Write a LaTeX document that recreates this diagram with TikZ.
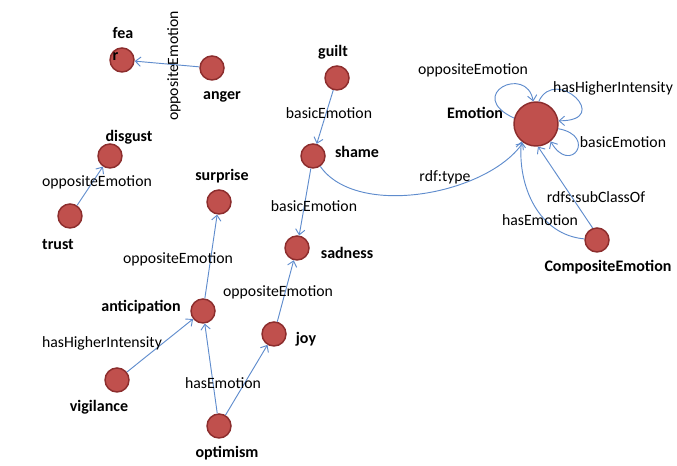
\documentclass[tikz,border=0pt]{standalone}
\usepackage{fontspec}
\setmainfont{Carlito}
\usepackage{tikz}
\usetikzlibrary{arrows.meta}
\definecolor{emofill}{RGB}{192,80,77}
\definecolor{emodraw}{RGB}{140,45,45}
\definecolor{linkblue}{RGB}{95,140,205}

\begin{document}
\begin{tikzpicture}[
  x=0.75pt, y=0.75pt,
  font=\fontsize{11.8}{14}\selectfont,
  % -- emotion nodes -----------------------------------------
  emo/.style={
    circle, fill=emofill, draw=emodraw, line width=1.1pt,
    minimum size=18pt, inner sep=0pt
  },
  bigemo/.style={emo, minimum size=33pt},
  % -- links -------------------------------------------------
  link/.style={draw=linkblue, line width=0.7pt,
    -{Straight Barb[length=4pt,width=7pt]}},
  % -- labels ------------------------------------------------
  emolbl/.style={font=\fontsize{12}{16}\selectfont\bfseries, inner sep=0pt},
  lbl/.style={inner sep=0pt},
]
\useasboundingbox (0,0) rectangle (677,466);

%% -- NODES -----------------------------------------------------
\node[emo] (fear)         at (122,406) {};
\node[emo] (anger)        at (212,398) {};
\node[emo] (disgust)      at (110,310) {};
\node[emo] (trust)        at (70,250)  {};
\node[emo] (surprise)     at (219,264) {};
\node[emo] (anticipation) at (203,155) {};
\node[emo] (vigilance)    at (117,86)  {};
\node[emo] (optimism)     at (219,40)  {};
\node[emo] (joy)          at (274,132) {};
\node[emo] (sadness)      at (297,218) {};
\node[emo] (shame)        at (313,310) {};
\node[emo] (guilt)        at (337,388) {};
\node[bigemo] (emotion)   at (536,342) {};
\node[emo] (composite)    at (597,226) {};

%% -- NODE NAMES ------------------------------------------------
\node[emolbl, align=left] (fearlbl) at (123,422) {fea\\r};
\node[emolbl] (angerlbl)     at (222,369) {anger};
\node[emolbl] (disgustlbl)   at (129,329) {disgust};
\node[emolbl] (trustlbl)     at (58,221)  {trust};
\node[emolbl] (surpriselbl)  at (222,290) {surprise};
\node[emolbl] (anticiplbl)   at (141,159) {anticipation};
\node[emolbl] (vigilancelbl) at (99,59)   {vigilance};
\node[emolbl] (optimismlbl)  at (227,13)  {optimism};
\node[emolbl] (joylbl)       at (306,127) {joy};
\node[emolbl] (sadnesslbl)   at (347,213) {sadness};
\node[emolbl] (shamelbl)     at (357,314) {shame};
\node[emolbl] (guiltlbl)     at (333,414) {guilt};
\node[emolbl] (emotionlbl)   at (475,353) {Emotion};
\node[emolbl] (compositelbl) at (608,199) {CompositeEmotion};

%% -- LINKS -----------------------------------------------------
\draw[link] (anger) -- (fear);
\draw[link] (trust) -- (disgust);
\draw[link] (anticipation) -- (surprise);
\draw[link] (vigilance) -- (anticipation);
\draw[link] (optimism) -- (anticipation);
\draw[link] (optimism) -- (joy);
\draw[link] (joy) -- (sadness);
\draw[link] (guilt) -- (shame);
\draw[link] (shame) -- (sadness);
\draw[link] (shame) to[out=-55,in=-125,looseness=0.8] (emotion);
\draw[link] (composite) to[out=175,in=-95] (emotion.-130);
\draw[link] (composite.110) -- (emotion.-85);

% self loops on Emotion
\draw[link] (emotion.165) .. controls +(155:55) and +(100:38) .. (emotion.97);
\draw[link] (emotion.83) .. controls +(65:40) and +(0:55) .. (emotion.8);
\draw[link] (emotion.-12) .. controls +(-10:40) and +(-60:40) .. (emotion.-50);

%% -- LINK LABELS -----------------------------------------------
\node[lbl, rotate=90] (l1) at (174,400) {oppositeEmotion};
\node[lbl] (l2)  at (97,284)  {oppositeEmotion};
\node[lbl] (l3)  at (178,207) {oppositeEmotion};
\node[lbl] (l4)  at (102,123) {hasHigherIntensity};
\node[lbl] (l5)  at (223,83)  {hasEmotion};
\node[lbl] (l6)  at (278,174) {oppositeEmotion};
\node[lbl] (l7)  at (329,353) {basicEmotion};
\node[lbl] (l8)  at (314,260) {basicEmotion};
\node[lbl] (l9)  at (445,289) {rdf:type};
\node[lbl] (l10) at (473,396) {oppositeEmotion};
\node[lbl] (l11) at (613,378) {hasHigherIntensity};
\node[lbl] (l12) at (623,324) {basicEmotion};
\node[lbl] (l13) at (596,269) {rdfs:subClassOf};
\node[lbl] (l14) at (540,246) {hasEmotion};

\end{tikzpicture}
\end{document}
